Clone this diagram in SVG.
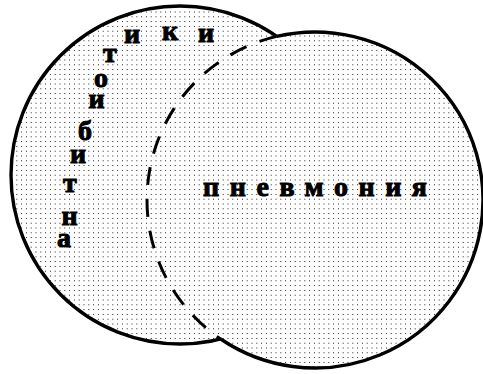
<svg xmlns="http://www.w3.org/2000/svg" width="483" height="374" viewBox="0 0 483 374">
  <defs>
    <pattern id="dots" width="4.8" height="4.8" patternUnits="userSpaceOnUse">
      <rect width="4.8" height="4.8" fill="#ffffff"/>
      <rect x="1.6" y="1.6" width="1.4" height="1.4" fill="#111" shape-rendering="crispEdges"/>
    </pattern>
    <style>
      .outline { stroke: #000; stroke-width: 3.4; }
      .dash { fill: none; stroke: #000; stroke-width: 3; stroke-dasharray: 18 14; }
      .lbl { font-family: "Liberation Serif", "Times New Roman", serif; font-weight: bold; font-size: 28px; fill: #000; stroke: #000; stroke-width: 1; text-anchor: middle; }
    </style>
  </defs>
  <rect width="483" height="374" fill="#ffffff"/>
  <g id="antibiotiki">
    <circle cx="180" cy="175" r="169" fill="url(#dots)" class="outline"/>
  </g>
  <g id="pnevmonia">
    <circle cx="315" cy="200" r="168" fill="url(#dots)"/>
    <path class="outline" fill="none" d="M276.72,36.41 A168,168 0 1 1 220.68,339.03"/>
  </g>
  <g id="connectors">
    <path class="dash" d="M276.72,36.41 A168,168 0 0 0 220.68,339.03"/>
  </g>
  <g id="labels">
    <text class="lbl" x="64" y="247">а</text>
    <text class="lbl" x="69.5" y="225">н</text>
    <text class="lbl" x="70" y="192">т</text>
    <text class="lbl" x="78" y="163">и</text>
    <text class="lbl" x="85" y="140">б</text>
    <text class="lbl" x="96.5" y="108">и</text>
    <text class="lbl" x="101" y="87">о</text>
    <text class="lbl" x="110" y="62">т</text>
    <text class="lbl" x="132" y="43">и</text>
    <text class="lbl" x="170" y="40">к</text>
    <text class="lbl" x="206" y="42">и</text>
    <text class="lbl" x="203" y="196" style="text-anchor:start" textLength="224" lengthAdjust="spacing">пневмония</text>
  </g>
</svg>
